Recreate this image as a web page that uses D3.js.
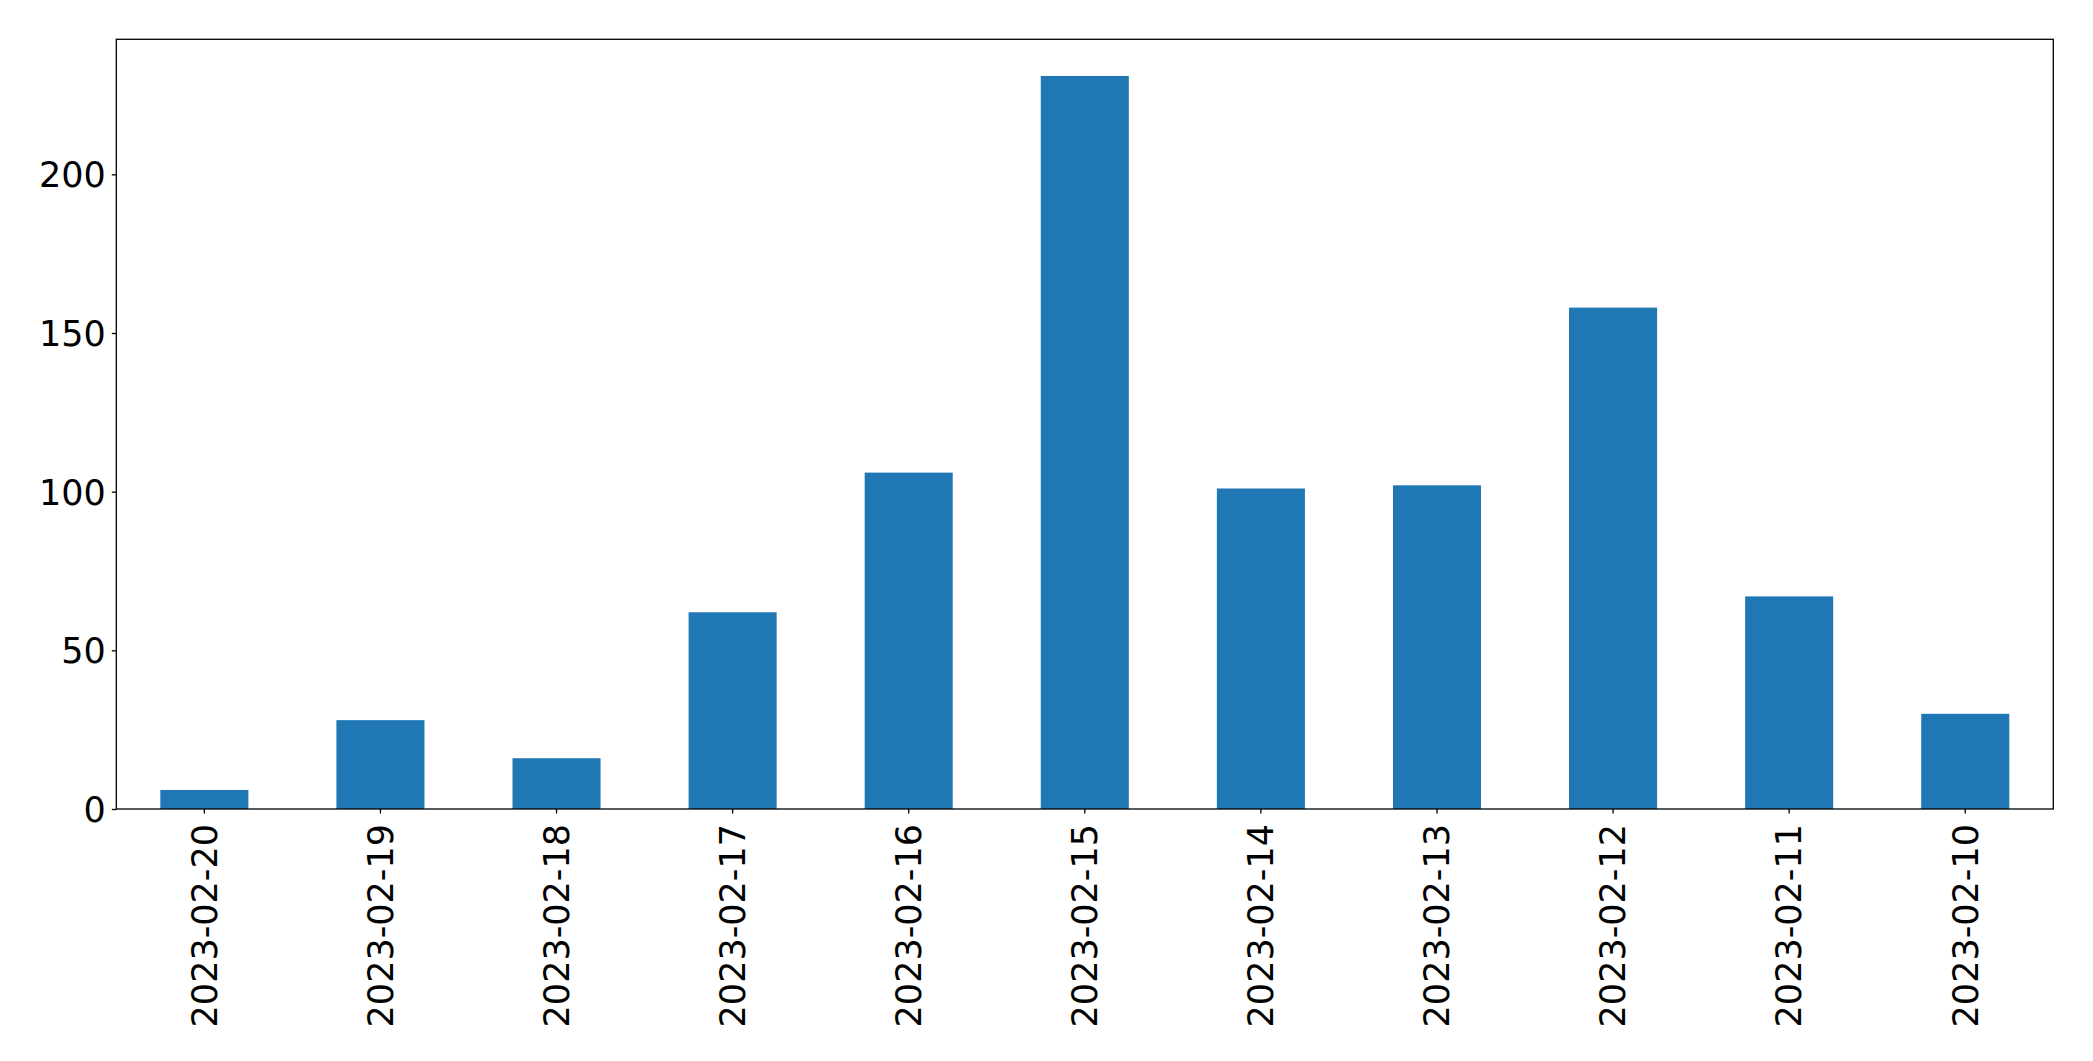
<!DOCTYPE html>
<html>
<head>
<meta charset="utf-8">
<script src="https://cdn.jsdelivr.net/npm/d3@7"></script>
<style>
  html, body { margin: 0; padding: 0; background: #fff; }
  svg { display: block; }
  .axis text { font-family: "DejaVu Sans", sans-serif; font-size: 35px; fill: #000; }
  .axis line { stroke: #000; stroke-width: 1.3; }
</style>
</head>
<body>
<div id="chart"></div>
<script>
// dates (x categories) and counts per day
const dates = ["2023-02-20", "2023-02-19", "2023-02-18", "2023-02-17", "2023-02-16", "2023-02-15",
               "2023-02-14", "2023-02-13", "2023-02-12", "2023-02-11", "2023-02-10"];
const counts = [6, 28, 16, 62, 106, 231, 101, 102, 158, 67, 30];
const yTicks = [0, 50, 100, 150, 200];

const W = 2093, H = 1061;
const m = { t: 39.3, r: 2093 - 2053.3, b: 1061 - 809, l: 116.3 };
const svg = d3.select("#chart").append("svg").attr("width", W).attr("height", H);

const x = d3.scaleBand().domain(dates).range([m.l, W - m.r])
  .paddingInner(0.5).paddingOuter(0.25);
const y = d3.scaleLinear().domain([0, d3.max(counts) * 1.05]).range([H - m.b, m.t]);

// bars
svg.append("g").selectAll("rect").data(dates).join("rect")
  .attr("x", d => x(d)).attr("width", x.bandwidth())
  .attr("y", (d, i) => y(counts[i]))
  .attr("height", (d, i) => y(0) - y(counts[i]))
  .attr("fill", "#1f77b4");

// axes
const gx = svg.append("g").attr("class", "axis").attr("transform", `translate(0,${H - m.b})`)
  .call(d3.axisBottom(x).tickSize(4.5).tickSizeOuter(0).tickPadding(0));
gx.select(".domain").remove();
gx.selectAll("text")
  .attr("transform", "rotate(-90)")
  .attr("x", -15).attr("y", 0).attr("dy", "0.35em")
  .attr("text-anchor", "end");

const gy = svg.append("g").attr("class", "axis").attr("transform", `translate(${m.l},0)`)
  .call(d3.axisLeft(y).tickValues(yTicks).tickFormat(d3.format("d")).tickSize(4.5).tickPadding(6));
gy.select(".domain").remove();
gy.selectAll("text").attr("dy", "0.36em");

// frame
svg.append("rect")
  .attr("x", m.l).attr("y", m.t)
  .attr("width", W - m.r - m.l).attr("height", H - m.b - m.t)
  .attr("fill", "none").attr("stroke", "#000").attr("stroke-width", 1.3);
</script>
</body>
</html>
